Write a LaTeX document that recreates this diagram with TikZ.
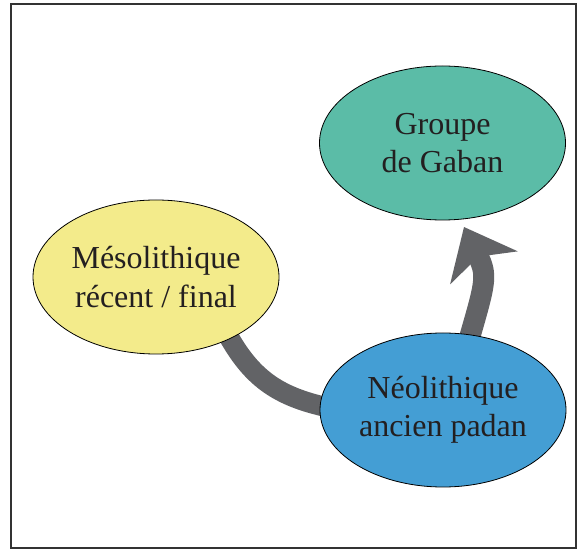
\documentclass[tikz,border=0pt]{standalone}
\usepackage{fontspec}
\setmainfont{Liberation Serif}
\usetikzlibrary{shapes.geometric,arrows.meta,backgrounds}
\definecolor{mesoyellow}{HTML}{F3EB8B}
\definecolor{gabanteal}{HTML}{5BBCA7}
\definecolor{neoblue}{HTML}{449ED4}
\definecolor{flowgray}{HTML}{626366}
\definecolor{inkgray}{HTML}{231F20}
\begin{document}
\begin{tikzpicture}
  [x=1pt,y=1pt,
   phase/.style={draw, ellipse, inner sep=0pt, minimum width=246pt, minimum height=154pt,
     line width=0.8pt, align=center, text=inkgray, font=\fontsize{32}{38.5}\selectfont},
   flow/.style={draw=flowgray, line width=20pt}]
  \useasboundingbox (0,0) rectangle (581,549);
  \draw[line width=1.8pt, draw=black!80] (11,1) rectangle (576,545);

  \node[phase, fill=mesoyellow] (meso) at (156,272) {Mésolithique\\récent / final};
  \node[phase, fill=gabanteal] (gaban) at (442.5,406) {Groupe\\de Gaban};
  \node[phase, fill=neoblue] (neo) at (443,139) {Néolithique\\ancien padan};
  \coordinate (tip) at (464,322);

  \begin{scope}[on background layer]
    \draw[flow, shorten <=-10pt, shorten >=-10pt] (meso.-40) to[out=-62, in=168] (neo.178);
    \draw[flow, line width=21pt, shorten <=-10pt,
      -{Stealth[length=45pt, width=74pt, inset=12pt]}] (neo.70) to[out=74, in=-64, looseness=1.3] (tip);
  \end{scope}
\end{tikzpicture}
\end{document}
